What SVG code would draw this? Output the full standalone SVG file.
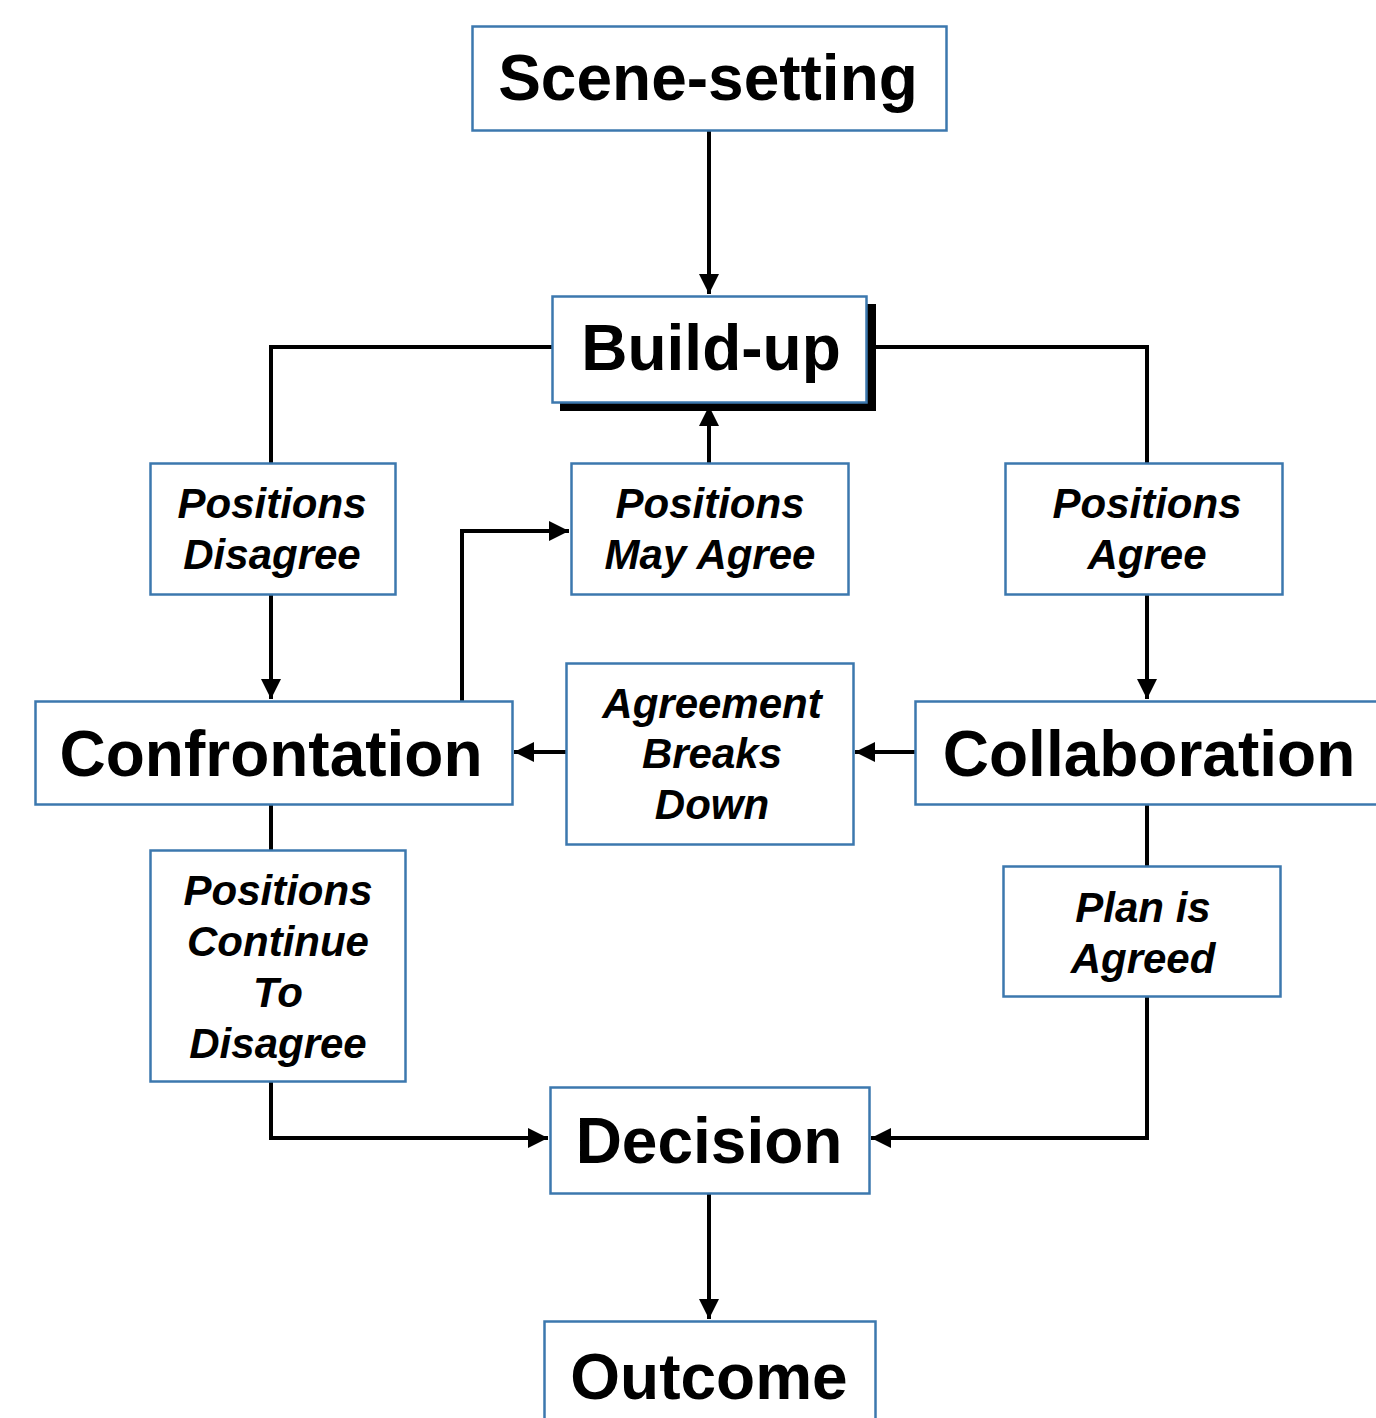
<svg xmlns="http://www.w3.org/2000/svg" width="1376" height="1418" viewBox="0 0 1376 1418">
<style>
.box{fill:#fff;stroke:#3c78ae;stroke-width:2.5}
.big{font-family:"Liberation Sans",Arial,sans-serif;font-weight:bold;font-size:64px;text-anchor:middle;fill:#000}
.sm{font-family:"Liberation Sans",Arial,sans-serif;font-weight:bold;font-style:italic;font-size:42px;text-anchor:middle;fill:#000}
.c{fill:none;stroke:#000;stroke-width:4}
</style>
<defs>
<marker id="ah" viewBox="0 0 10 10" refX="10" refY="5" markerWidth="5" markerHeight="5" orient="auto" markerUnits="strokeWidth">
<path d="M0,0L10,5L0,10z" fill="#000"/>
</marker>
</defs>
<rect width="1376" height="1418" fill="#fff"/>
<g id="connectors">
<path class="c" d="M709,130V294" marker-end="url(#ah)"/>
<path class="c" d="M552,347H271V463"/>
<path class="c" d="M271,594V699" marker-end="url(#ah)"/>
<path class="c" d="M867,347H1147V463"/>
<path class="c" d="M1147,594V699" marker-end="url(#ah)"/>
<path class="c" d="M709,463V406" marker-end="url(#ah)"/>
<path class="c" d="M462,701V531H569" marker-end="url(#ah)"/>
<path class="c" d="M915,752H855" marker-end="url(#ah)"/>
<path class="c" d="M566,752H514" marker-end="url(#ah)"/>
<path class="c" d="M271,804V850"/>
<path class="c" d="M271,1081V1138H548" marker-end="url(#ah)"/>
<path class="c" d="M1147,804V866"/>
<path class="c" d="M1147,996V1138H871" marker-end="url(#ah)"/>
<path class="c" d="M709,1193V1319" marker-end="url(#ah)"/>
</g>
<g id="scene-setting">
<rect class="box" x="472.5" y="26.5" width="474" height="104"/>
<text class="big" x="708" y="100" font-size="62">Scene-setting</text>
</g>
<g id="build-up">
<rect x="560" y="304" width="316" height="107" fill="#000"/>
<rect class="box" x="552.5" y="296.5" width="314" height="106"/>
<text class="big" x="711" y="370">Build-up</text>
</g>
<g id="positions-disagree">
<rect class="box" x="150.5" y="463.5" width="245" height="131"/>
<text class="sm" x="272" y="518">Positions</text>
<text class="sm" x="272" y="569">Disagree</text>
</g>
<g id="positions-may-agree">
<rect class="box" x="571.5" y="463.5" width="277" height="131"/>
<text class="sm" x="710" y="518">Positions</text>
<text class="sm" x="710" y="569">May Agree</text>
</g>
<g id="positions-agree">
<rect class="box" x="1005.5" y="463.5" width="277" height="131"/>
<text class="sm" x="1147" y="518">Positions</text>
<text class="sm" x="1147" y="569">Agree</text>
</g>
<g id="confrontation">
<rect class="box" x="35.5" y="701.5" width="477" height="103"/>
<text class="big" x="271" y="776">Confrontation</text>
</g>
<g id="agreement-breaks-down">
<rect class="box" x="566.5" y="663.5" width="287" height="181"/>
<text class="sm" x="712" y="718">Agreement</text>
<text class="sm" x="712" y="768">Breaks</text>
<text class="sm" x="712" y="819">Down</text>
</g>
<g id="collaboration">
<rect class="box" x="915.5" y="701.5" width="480" height="103"/>
<text class="big" x="1149" y="776">Collaboration</text>
</g>
<g id="positions-continue">
<rect class="box" x="150.5" y="850.5" width="255" height="231"/>
<text class="sm" x="278" y="905">Positions</text>
<text class="sm" x="278" y="956">Continue</text>
<text class="sm" x="278" y="1007">To</text>
<text class="sm" x="278" y="1058">Disagree</text>
</g>
<g id="plan-is-agreed">
<rect class="box" x="1003.5" y="866.5" width="277" height="130"/>
<text class="sm" x="1143" y="922">Plan is</text>
<text class="sm" x="1143" y="973">Agreed</text>
</g>
<g id="decision">
<rect class="box" x="550.5" y="1087.5" width="319" height="106"/>
<text class="big" x="709" y="1163">Decision</text>
</g>
<g id="outcome">
<rect class="box" x="544.5" y="1321.5" width="331" height="120"/>
<text class="big" x="709" y="1399">Outcome</text>
</g>
</svg>
